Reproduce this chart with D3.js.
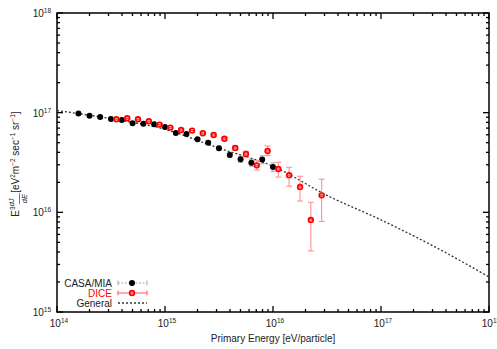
<!DOCTYPE html>
<html>
<head>
<meta charset="utf-8">
<script src="https://cdn.jsdelivr.net/npm/d3@7"></script>
<style>
  body { margin: 0; background: #fff; }
  text { font-family: "Liberation Sans", Arial, sans-serif; }
</style>
</head>
<body>
<svg width="497" height="349"></svg>
<script>
// CASA/MIA (black)
const casaE = [1.58e14, 2e14, 2.51e14, 3.16e14, 3.98e14, 5.01e14, 6.31e14, 7.94e14, 1e15, 1.26e15,
  1.58e15, 2e15, 2.51e15, 3.16e15, 3.98e15, 5.01e15, 6.31e15, 7.94e15, 1e16];
const casaF = [9.8e16, 9.3e16, 9.06e16, 8.65e16, 8.45e16, 7.83e16, 7.76e16, 7.66e16, 7.19e16, 6.25e16,
  6.11e16, 5.41e16, 5.0e16, 4.4e16, 3.77e16, 3.41e16, 3.15e16, 3.38e16, 2.85e16];
const casaErr = [0.02, 0.02, 0.02, 0.02, 0.02, 0.02, 0.02, 0.02, 0.03, 0.03,
  0.03, 0.04, 0.04, 0.05, 0.06, 0.07, 0.08, 0.09, 0.1];

// DICE (red)
const diceE = [3.55e14, 4.47e14, 5.62e14, 7.08e14, 8.91e14, 1.12e15, 1.41e15, 1.78e15, 2.24e15, 2.82e15,
  3.55e15, 4.47e15, 5.62e15, 7.08e15, 8.91e15, 1.12e16, 1.41e16, 1.78e16, 2.24e16, 2.82e16];
const diceF = [8.59e16, 8.79e16, 8.59e16, 8.2e16, 7.59e16, 7.08e16, 6.7e16, 6.61e16, 6.21e16, 5.97e16,
  5.48e16, 4.43e16, 3.85e16, 2.96e16, 4.13e16, 2.72e16, 2.36e16, 1.8e16, 8.4e15, 1.48e16];
const diceLo = [8.4e16, 8.6e16, 8.4e16, 8.0e16, 7.4e16, 6.9e16, 6.5e16, 6.4e16, 6.0e16, 5.75e16,
  5.25e16, 4.2e16, 3.6e16, 2.66e16, 3.71e16, 2.26e16, 1.83e16, 1.3e16, 4.1e15, 8.1e15];
const diceHi = [8.8e16, 9.0e16, 8.8e16, 8.4e16, 7.8e16, 7.3e16, 6.9e16, 6.8e16, 6.4e16, 6.2e16,
  5.7e16, 4.65e16, 4.1e16, 3.3e16, 4.63e16, 3.18e16, 2.83e16, 2.3e16, 1.26e16, 2.15e16];

// General model curve
const genE = [1e14, 3.16e14, 1e15, 3.16e15, 1e16, 3.16e16, 1e17, 3.16e17, 1e18];
const genF = [1.05e17, 8.7e16, 6.8e16, 4.4e16, 2.9e16, 1.48e16, 8.4e15, 4.5e15, 2.25e15];

const xDecades = [14, 15, 16, 17, 18];
const yDecades = [15, 16, 17, 18];

const svg = d3.select('svg');
const L = 57, R = 489, T = 13, B = 312;

const x = d3.scaleLog().domain([1e14, 1e18]).range([L, R]);
const y = d3.scaleLog().domain([1e15, 1e18]).range([B, T]);

// minor ticks
const minor = (decs) => {
  const out = [];
  decs.slice(0, -1).forEach(d => { for (let m = 2; m <= 9; m++) out.push(m * Math.pow(10, d)); });
  return out;
};
const ticks = svg.append('g').attr('stroke', '#000').attr('stroke-width', 1.3);
xDecades.forEach(d => {
  const px = x(Math.pow(10, d));
  ticks.append('line').attr('x1', px).attr('x2', px).attr('y1', B).attr('y2', B - 6);
  ticks.append('line').attr('x1', px).attr('x2', px).attr('y1', T).attr('y2', T + 6);
});
minor(xDecades).forEach(v => {
  const px = x(v);
  ticks.append('line').attr('x1', px).attr('x2', px).attr('y1', B).attr('y2', B - 3);
  ticks.append('line').attr('x1', px).attr('x2', px).attr('y1', T).attr('y2', T + 3);
});
yDecades.forEach(d => {
  const py = y(Math.pow(10, d));
  ticks.append('line').attr('x1', L).attr('x2', L + 6).attr('y1', py).attr('y2', py);
  ticks.append('line').attr('x1', R).attr('x2', R - 6).attr('y1', py).attr('y2', py);
});
minor(yDecades).forEach(v => {
  const py = y(v);
  ticks.append('line').attr('x1', L).attr('x2', L + 3).attr('y1', py).attr('y2', py);
  ticks.append('line').attr('x1', R).attr('x2', R - 3).attr('y1', py).attr('y2', py);
});

// frame
svg.append('rect').attr('x', L).attr('y', T).attr('width', R - L).attr('height', B - T)
  .attr('fill', 'none').attr('stroke', '#000').attr('stroke-width', 1.5);

// tick labels
const pow10 = (g, d) => {
  g.append('tspan').text('10');
  g.append('tspan').attr('font-size', 6.5).attr('dy', -4).text(d);
};
xDecades.forEach(d => {
  const t = svg.append('text').attr('x', x(Math.pow(10, d)) + 2).attr('y', B + 15)
    .attr('text-anchor', 'middle').attr('font-size', 10).attr('fill', '#222');
  pow10(t, d);
});
yDecades.forEach(d => {
  const t = svg.append('text').attr('x', L - 6).attr('y', y(Math.pow(10, d)) + 4)
    .attr('text-anchor', 'end').attr('font-size', 10).attr('fill', '#222');
  pow10(t, d);
});

// axis titles
svg.append('text').attr('x', 273).attr('y', 342).attr('text-anchor', 'middle')
  .attr('font-size', 10).attr('fill', '#222').text('Primary Energy [eV/particle]');

const yl = svg.append('g').attr('transform', 'translate(19,164) rotate(-90)');
const ylt = yl.append('text').attr('font-size', 10).attr('fill', '#222').attr('text-anchor', 'middle');
ylt.append('tspan').text('E');
ylt.append('tspan').attr('font-size', 6.5).attr('dy', -4).text('3');
ylt.append('tspan').attr('font-size', 7.5).attr('font-style', 'italic').attr('dy', -1.5).text('dJ');
ylt.append('tspan').attr('font-size', 10).attr('dy', 5.5).text('\u00a0\u00a0[eV');
ylt.append('tspan').attr('font-size', 6.5).attr('dy', -4).text('2');
ylt.append('tspan').attr('dy', 4).text('m');
ylt.append('tspan').attr('font-size', 6.5).attr('dy', -4).text('\u22122');
ylt.append('tspan').attr('dy', 4).text(' sec');
ylt.append('tspan').attr('font-size', 6.5).attr('dy', -4).text('\u22121');
ylt.append('tspan').attr('dy', 4).text(' sr');
ylt.append('tspan').attr('font-size', 6.5).attr('dy', -4).text('\u22121');
ylt.append('tspan').attr('dy', 4).text(']');
// fraction bar and denominator placed under "dJ"
const bb = ylt.node().getBBox();
const frX = bb.x + 13.5;
yl.append('line').attr('x1', frX - 1).attr('x2', frX + 10).attr('y1', 0.5).attr('y2', 0.5)
  .attr('stroke', '#222').attr('stroke-width', 0.6);
yl.append('text').attr('x', frX).attr('y', 8).attr('font-size', 7.5).attr('font-style', 'italic')
  .attr('fill', '#222').text('dE');

// general curve
const line = d3.line().x((d, i) => x(genE[i])).y(d => y(d)).curve(d3.curveMonotoneX);
svg.append('path').attr('d', line(genF)).attr('fill', 'none')
  .attr('stroke', '#333').attr('stroke-width', 1.3).attr('stroke-dasharray', '2,2');

// CASA/MIA error bars + points
const casa = svg.append('g');
casaE.forEach((e, i) => {
  const px = x(e), lo = y(casaF[i] * (1 - casaErr[i])), hi = y(casaF[i] * (1 + casaErr[i]));
  casa.append('line').attr('x1', px).attr('x2', px).attr('y1', lo).attr('y2', hi)
    .attr('stroke', '#999').attr('stroke-width', 0.8).attr('stroke-dasharray', '1.5,1');
  [lo, hi].forEach(v => casa.append('line').attr('x1', px - 2.5).attr('x2', px + 2.5)
    .attr('y1', v).attr('y2', v).attr('stroke', '#999').attr('stroke-width', 0.8));
});
casa.selectAll('circle').data(casaF).enter().append('circle')
  .attr('cx', (d, i) => x(casaE[i])).attr('cy', d => y(d)).attr('r', 3).attr('fill', '#000');

// DICE error bars + points
const dice = svg.append('g');
diceE.forEach((e, i) => {
  const px = x(e), lo = y(diceLo[i]), hi = y(diceHi[i]);
  dice.append('line').attr('x1', px).attr('x2', px).attr('y1', lo).attr('y2', hi)
    .attr('stroke', '#f99').attr('stroke-width', 1.2);
  [lo, hi].forEach(v => dice.append('line').attr('x1', px - 3).attr('x2', px + 3)
    .attr('y1', v).attr('y2', v).attr('stroke', '#f99').attr('stroke-width', 1.2));
});
const redMark = (g, cx, cy) => {
  g.append('circle').attr('cx', cx).attr('cy', cy).attr('r', 3.2).attr('fill', '#f00');
  g.append('circle').attr('cx', cx).attr('cy', cy).attr('r', 1.5).attr('fill', '#fff').attr('opacity', 0.8);
  g.append('line').attr('x1', cx - 2.8).attr('x2', cx + 2.8).attr('y1', cy).attr('y2', cy)
    .attr('stroke', '#f00').attr('stroke-width', 0.8);
};
diceF.forEach((f, i) => redMark(dice, x(diceE[i]), y(f)));

// legend
const lg = svg.append('g').attr('font-size', 10);
const lx1 = 118, lx2 = 147, lmx = 132;
lg.append('text').attr('x', 112).attr('y', 286.5).attr('text-anchor', 'end').attr('fill', '#222').text('CASA/MIA');
lg.append('line').attr('x1', lx1).attr('x2', lx2).attr('y1', 283).attr('y2', 283)
  .attr('stroke', '#999').attr('stroke-width', 0.8).attr('stroke-dasharray', '2,1.5');
[lx1, lx2].forEach(v => lg.append('line').attr('x1', v).attr('x2', v).attr('y1', 280.5).attr('y2', 285.5)
  .attr('stroke', '#999').attr('stroke-width', 0.8));
lg.append('circle').attr('cx', lmx).attr('cy', 283).attr('r', 3).attr('fill', '#000');

lg.append('text').attr('x', 112).attr('y', 296.5).attr('text-anchor', 'end').attr('fill', '#f00').text('DICE');
lg.append('line').attr('x1', lx1).attr('x2', lx2).attr('y1', 293).attr('y2', 293)
  .attr('stroke', '#f55').attr('stroke-width', 1);
[lx1, lx2].forEach(v => lg.append('line').attr('x1', v).attr('x2', v).attr('y1', 290.5).attr('y2', 295.5)
  .attr('stroke', '#f55').attr('stroke-width', 1));
redMark(lg, lmx, 293);

lg.append('text').attr('x', 112).attr('y', 306.5).attr('text-anchor', 'end').attr('fill', '#222').text('General');
lg.append('line').attr('x1', lx1).attr('x2', lx2).attr('y1', 303).attr('y2', 303)
  .attr('stroke', '#333').attr('stroke-width', 1.3).attr('stroke-dasharray', '2,2');
</script>
</body>
</html>
